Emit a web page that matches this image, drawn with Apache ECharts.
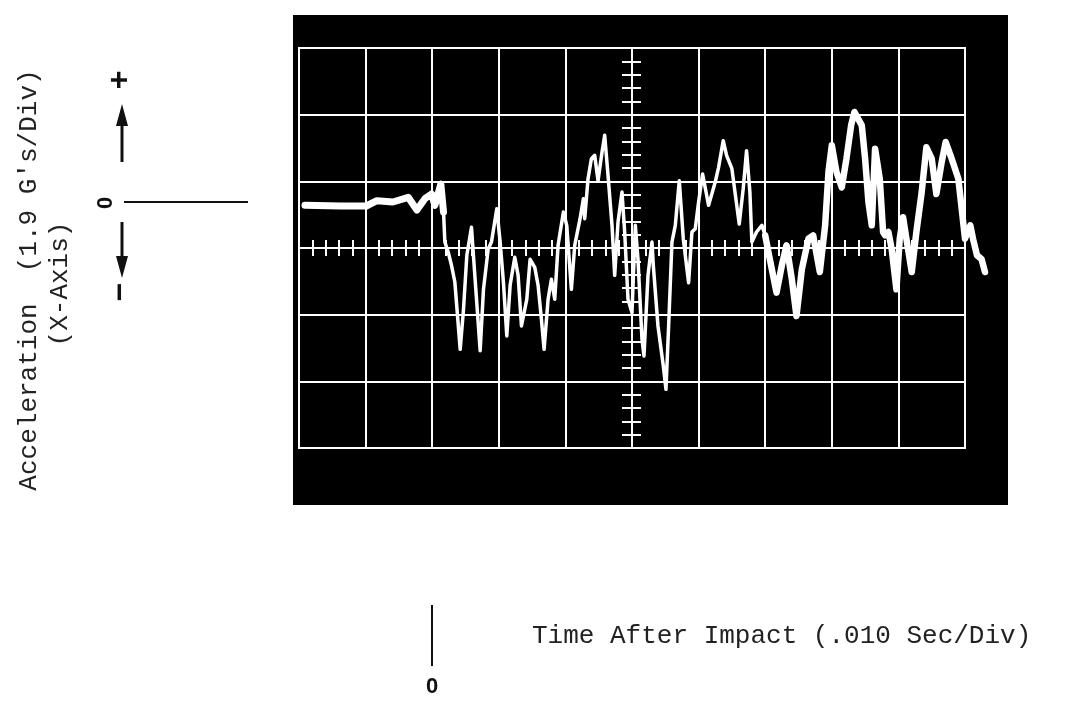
<!DOCTYPE html>
<html>
<head>
<meta charset="utf-8">
<title>Acceleration (X-Axis)</title>
<script src="https://cdn.jsdelivr.net/npm/echarts@6/dist/echarts.min.js"></script>
<style>
  html, body { margin: 0; padding: 0; background: #fff; }
  #chart { width: 1075px; height: 711px; }
</style>
</head>
<body>
<div id="chart"></div>
<script>
// trace, [time (div), acceleration (div)]
// 10 time divisions (.010 s each), 6 accel divisions (1.9 G each), 0 at screen centre
const traceBefore = [
  [0.09, 0.64], [0.62, 0.63], [1.01, 0.63], [1.17, 0.71], [1.41, 0.69],
  [1.64, 0.76], [1.77, 0.57], [1.89, 0.74], [1.99, 0.81], [2.04, 0.64],
  [2.13, 0.96], [2.17, 0.54]
]
const traceImpact = [
  [2.17, 0.54], [2.19, 0.09], [2.24, -0.06], [2.29, -0.26], [2.34, -0.51],
  [2.42, -1.52], [2.47, -0.92], [2.52, -0.11], [2.59, 0.31], [2.64, -0.41],
  [2.72, -1.54], [2.77, -0.62], [2.84, -0.02], [2.89, 0.09], [2.97, 0.59],
  [3.02, 0.09], [3.07, -0.52], [3.12, -1.32], [3.17, -0.56], [3.24, -0.14],
  [3.29, -0.41], [3.34, -1.17], [3.42, -0.77], [3.47, -0.17], [3.54, -0.29],
  [3.59, -0.56], [3.64, -1.07], [3.68, -1.52], [3.74, -0.77], [3.79, -0.47],
  [3.84, -0.77], [3.89, 0.04], [3.97, 0.54], [4.02, 0.34], [4.09, -0.62],
  [4.14, 0.04], [4.22, 0.44], [4.27, 0.74], [4.29, 0.44], [4.34, 1.04],
  [4.39, 1.34], [4.44, 1.39], [4.49, 1.01], [4.55, 1.44], [4.59, 1.69],
  [4.64, 1.09], [4.70, 0.34], [4.74, -0.41], [4.79, 0.39], [4.85, 0.84],
  [4.89, 0.24], [4.94, -0.77], [5.00, -0.97], [5.05, 0.34], [5.09, -0.17],
  [5.15, -1.37], [5.18, -1.62], [5.24, -0.41], [5.30, 0.09], [5.32, -0.26],
  [5.39, -1.17], [5.47, -1.77], [5.51, -2.12], [5.55, -1.17], [5.60, 0.09],
  [5.65, 0.34], [5.71, 1.01], [5.77, 0.14], [5.85, -0.52], [5.90, 0.24],
  [5.95, 0.29], [6.00, 0.69], [6.06, 1.11], [6.15, 0.64], [6.25, 0.99],
  [6.30, 1.21], [6.37, 1.61], [6.42, 1.39], [6.50, 1.19], [6.61, 0.36],
  [6.67, 0.89], [6.72, 1.46], [6.77, 0.84], [6.80, 0.09], [6.87, 0.24],
  [6.95, 0.34], [7.00, 0.19]
]
const traceLate = [
  [7.00, 0.19], [7.07, -0.17], [7.17, -0.67], [7.25, -0.26], [7.32, 0.04],
  [7.40, -0.47], [7.47, -1.02], [7.55, -0.32], [7.65, 0.14], [7.72, 0.19],
  [7.82, -0.36], [7.90, 0.34], [7.95, 1.14], [8.00, 1.54], [8.07, 1.14],
  [8.15, 0.91], [8.22, 1.34], [8.29, 1.84], [8.34, 2.04], [8.45, 1.84],
  [8.50, 1.34], [8.55, 0.69], [8.60, 0.34], [8.65, 1.49], [8.72, 1.04],
  [8.77, 0.24], [8.80, 0.19], [8.85, 0.24], [8.90, -0.02], [8.97, -0.62],
  [9.02, 0.14], [9.07, 0.46], [9.12, 0.14], [9.20, -0.36], [9.27, 0.24],
  [9.35, 0.84], [9.42, 1.51], [9.50, 1.34], [9.57, 0.81], [9.65, 1.29],
  [9.71, 1.59], [9.80, 1.34], [9.90, 1.04], [9.95, 0.59], [10.00, 0.14],
  [10.08, 0.34], [10.12, 0.14], [10.18, -0.11], [10.25, -0.17], [10.30, -0.36]
]

const yLabel = "Acceleration  (1.9 G's/Div)"
const yLabel2 = '(X-Axis)'
const xLabel = 'Time After Impact (.010 Sec/Div)'

const typeFont = '"Liberation Mono", "DejaVu Sans Mono", monospace'
const sans = '"Liberation Sans", "DejaVu Sans", sans-serif'

// graticule placement (px)
const gLeft = 299
const gTop = 48
const gW = 666
const gH = 400
const divW = gW / 10
const traceMax = 10.5 // trace runs a little past the last division

function traceSeries(data, width) {
  return {
    type: 'line',
    xAxisIndex: 4,
    yAxisIndex: 4,
    data: data,
    showSymbol: false,
    silent: true,
    z: 5,
    lineStyle: { color: '#fff', width: width, cap: 'round', join: 'round' }
  }
}

// centre cross of the graticule with 1/5 div ticks on both sides
function crossAxis(dim, position, tickLen) {
  const isX = dim === 'x'
  return {
    type: 'value',
    gridIndex: 1,
    position: position,
    offset: isX ? -gH / 2 : -gW / 2,
    min: isX ? 0 : -3,
    max: isX ? 10 : 3,
    interval: 0.2,
    axisLine: { show: true, onZero: false, lineStyle: { color: '#fff', width: 2 } },
    axisTick: { show: true, inside: false, length: tickLen, lineStyle: { color: '#fff', width: 2 } },
    axisLabel: { show: false },
    splitLine: { show: false }
  }
}

const hidden = { type: 'value', show: false, axisLine: { onZero: false } }

const option = {
  backgroundColor: '#fff',
  animation: false,
  grid: [
    { left: 293, top: 15, width: 715, height: 490, show: true, backgroundColor: '#000', borderWidth: 0 },
    { left: gLeft, top: gTop, width: gW, height: gH, show: true, backgroundColor: 'transparent', borderColor: '#fff', borderWidth: 2 },
    { left: gLeft, top: gTop, width: divW * traceMax, height: gH, show: false }
  ],
  xAxis: [
    Object.assign({ gridIndex: 0, min: 0, max: 1 }, hidden),
    {
      type: 'value', gridIndex: 1, min: 0, max: 10, interval: 1,
      axisLine: { show: false, onZero: false }, axisTick: { show: false }, axisLabel: { show: false },
      splitLine: { show: true, lineStyle: { color: '#fff', width: 2 } }
    },
    crossAxis('x', 'bottom', 8),
    crossAxis('x', 'top', 8),
    Object.assign({ gridIndex: 2, min: 0, max: traceMax }, hidden)
  ],
  yAxis: [
    Object.assign({ gridIndex: 0, min: 0, max: 1 }, hidden),
    {
      type: 'value', gridIndex: 1, min: -3, max: 3, interval: 1,
      axisLine: { show: false, onZero: false }, axisTick: { show: false }, axisLabel: { show: false },
      splitLine: { show: true, lineStyle: { color: '#fff', width: 2 } }
    },
    crossAxis('y', 'left', 10),
    crossAxis('y', 'right', 9),
    Object.assign({ gridIndex: 2, min: -3, max: 3 }, hidden)
  ],
  series: [
    traceSeries(traceBefore, 7),
    traceSeries(traceImpact, 3.5),
    traceSeries(traceLate, 6.5)
  ],
  graphic: [
    // y axis title, rotated
    {
      type: 'text', x: 29, y: 280, rotation: Math.PI / 2,
      style: { text: yLabel, font: '26px ' + typeFont, fill: '#222', align: 'center', verticalAlign: 'middle' }
    },
    {
      type: 'text', x: 60, y: 284, rotation: Math.PI / 2,
      style: { text: yLabel2, font: '26px ' + typeFont, fill: '#222', align: 'center', verticalAlign: 'middle' }
    },
    // sign key: + / arrows / 0 / -
    {
      type: 'text', x: 120, y: 80, rotation: Math.PI / 2,
      style: { text: '+', font: 'bold 32px ' + sans, fill: '#111', align: 'center', verticalAlign: 'middle' }
    },
    {
      type: 'line', shape: { x1: 122, y1: 162, x2: 122, y2: 120 },
      style: { stroke: '#111', lineWidth: 3 }
    },
    {
      type: 'polygon', shape: { points: [[122, 104], [116, 126], [128, 126]] },
      style: { fill: '#111' }
    },
    {
      type: 'text', x: 106, y: 203, rotation: Math.PI / 2,
      style: { text: '0', font: 'bold 22px ' + sans, fill: '#111', align: 'center', verticalAlign: 'middle' }
    },
    {
      type: 'line', shape: { x1: 124, y1: 202, x2: 248, y2: 202 },
      style: { stroke: '#111', lineWidth: 2 }
    },
    {
      type: 'line', shape: { x1: 122, y1: 222, x2: 122, y2: 262 },
      style: { stroke: '#111', lineWidth: 3 }
    },
    {
      type: 'polygon', shape: { points: [[122, 278], [116, 256], [128, 256]] },
      style: { fill: '#111' }
    },
    {
      type: 'text', x: 121, y: 292, rotation: Math.PI / 2,
      style: { text: '\u2212', font: 'bold 32px ' + sans, fill: '#111', align: 'center', verticalAlign: 'middle' }
    },
    // time zero marker
    {
      type: 'line', shape: { x1: 432, y1: 605, x2: 432, y2: 666 },
      style: { stroke: '#111', lineWidth: 2 }
    },
    {
      type: 'text', x: 432, y: 687,
      style: { text: '0', font: 'bold 22px ' + sans, fill: '#111', align: 'center', verticalAlign: 'middle' }
    },
    {
      type: 'text', x: 532, y: 636,
      style: { text: xLabel, font: '26px ' + typeFont, fill: '#222', align: 'left', verticalAlign: 'middle' }
    }
  ]
}

const chart = echarts.init(document.getElementById('chart'))
chart.setOption(option)
</script>
</body>
</html>
